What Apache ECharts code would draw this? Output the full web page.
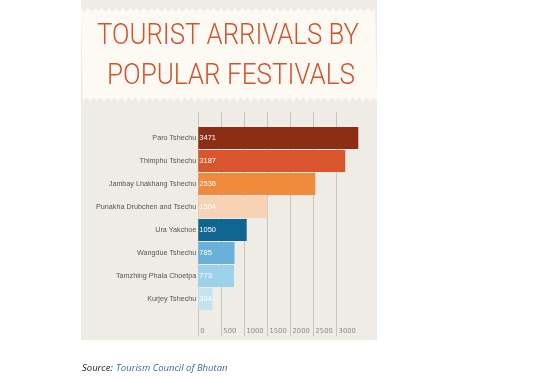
<!DOCTYPE html>
<html><head><meta charset="utf-8">
<script src="https://cdn.jsdelivr.net/npm/echarts@6/dist/echarts.min.js"></script>
<style>html,body{margin:0;padding:0;background:#fff}#c{width:556px;height:380px}</style>
</head><body><div id="c"></div>
<script>
const categories = ['Paro Tshechu','Thimphu Tshechu','Jambay Lhakhang Tshechu','Punakha Drubchen and Tsechu','Ura Yakchoe','Wangdue Tshechu','Tamzhing Phala Choetpa','Kurjey Tshechu'];
const values = [3471, 3187, 2536, 1504, 1050, 785, 773, 304];
const barColors = ['#8c2d14','#d9552d','#f08b3b','#f5d3b4','#0f6690','#69b1db','#9ed2ea','#c5e3ef'];
const titleLines = ['TOURIST ARRIVALS BY', 'POPULAR FESTIVALS'];
const sourceLabel = 'Source';
const sourceName = 'Tourism Council of Bhutan';

const maxVal = Math.max(...values);
const sans = '"Liberation Sans", Arial, sans-serif';
const titleFont = '300 30px Roboto, "Liberation Sans", sans-serif';

function measure(t, font){ const c=document.createElement('canvas').getContext('2d'); c.font=font; return c.measureText(t).width; }

const pL = 81, pR = 377;
function zigzag(){
  const pts=[]; const step=3.5;
  let up=true;
  for(let x=pL;x<=pR+0.01;x+=step){ pts.push([Math.min(x,pR), up?8:11.5]); up=!up; }
  up=true;
  for(let x=pR;x>=pL-0.01;x-=step){ pts.push([Math.max(x,pL), up?101:97.5]); up=!up; }
  return pts;
}

const chart = echarts.init(document.getElementById('c'), null, {renderer:'canvas'});
chart.setOption({
  backgroundColor:'#ffffff',
  animation:false,
  graphic:[
    {type:'rect', z:-10, shape:{x:pL,y:0,width:pR-pL,height:340}, style:{fill:'#efece6'}},
    {type:'polygon', z:-9, shape:{points:zigzag()}, style:{fill:'#fcfaf2'}},
    {type:'text', x:228, y:36, scaleX:262/measure(titleLines[0],titleFont), style:{text:titleLines[0], font:titleFont, fill:'#cd5632', textAlign:'center', textVerticalAlign:'middle'}},
    {type:'text', x:231, y:76, scaleX:248/measure(titleLines[1],titleFont), style:{text:titleLines[1], font:titleFont, fill:'#cd5632', textAlign:'center', textVerticalAlign:'middle'}},
    {type:'text', x:82, y:368.5, style:{text:'{a|'+sourceLabel+':} {b|'+sourceName+'}', textVerticalAlign:'middle',
      rich:{a:{fontFamily:'"Open Sans", sans-serif', fontStyle:'italic', fontSize:9.5, fill:'#222'},
            b:{fontFamily:'"Open Sans", sans-serif', fontStyle:'italic', fontSize:9.5, fill:'#3a6f8f'}}}}
  ],
  grid:[
    {left:198.3, width:160, top:111.7, height:224.3},
    {left:198.3, width:160, top:126.5, height:184}
  ],
  xAxis:[
    {gridIndex:0, type:'value', min:0, max:maxVal, interval:500,
     axisLine:{show:false}, axisTick:{show:false},
     splitLine:{show:true, showMaxLine:false, lineStyle:{color:'#c8c5bf', width:1}},
     axisLabel:{inside:true, showMaxLabel:false, margin:5, align:'left', verticalAlign:'middle', padding:[0,0,0,2], fontSize:6.8, color:'#8a8a8a', fontFamily:'"DejaVu Sans", sans-serif', formatter:(v)=>String(v)}},
    {gridIndex:1, type:'value', min:0, max:maxVal, show:false, splitLine:{show:false}}
  ],
  yAxis:[
    {gridIndex:0, type:'value', show:false, splitLine:{show:false}},
    {gridIndex:1, type:'category', inverse:true, data:categories,
     axisLine:{show:false}, axisTick:{show:false},
     axisLabel:{margin:2, fontSize:7.2, color:'#555', fontFamily:sans}}
  ],
  series:[{
    type:'bar', xAxisIndex:1, yAxisIndex:1, barCategoryGap:'4%',
    data: values.map((v,i)=>({value:v, itemStyle:{color:barColors[i]}})),
    label:{show:true, position:'insideLeft', distance:1, color:'#fff', fontSize:7.5, fontFamily:sans}
  }]
});
</script></body></html>
